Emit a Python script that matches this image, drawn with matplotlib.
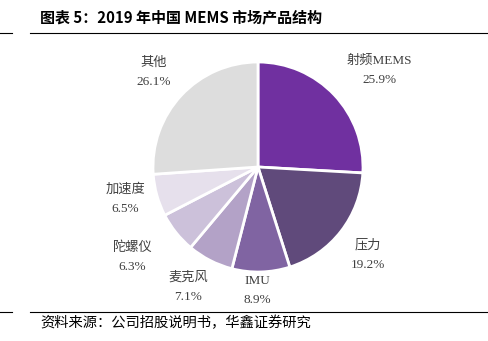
import numpy as np
import matplotlib
matplotlib.use('Agg')
import matplotlib.pyplot as plt
from matplotlib.lines import Line2D

plt.rcParams['font.family'] = ['Liberation Serif', 'Noto Sans CJK SC', 'DejaVu Sans']

categories = ['射频MEMS', '压力', 'IMU', '麦克风', '陀螺仪', '加速度', '其他']
shares = [25.9, 19.2, 8.9, 7.1, 6.3, 6.5, 26.1]
colors = ['#7030A0', '#604A7B', '#8064A2', '#B3A2C7', '#CCC1DA', '#E6E0EC', '#DDDDDD']

# label distance from centre (in pie radii) and angle nudge (deg), per slice
label_dist = [1.48, 1.34, 1.18, 1.32, 1.47, 1.30, 1.34]
label_turn = [-5, -1, -2, -3, -3, -2, 1]

W, H = 489, 341
fig = plt.figure(figsize=(W / 100, H / 100), dpi=100)

# pie axes: centre (258, 167) px from top, radius ~105 px
cx, cy, r = 258, 167, 105
ax = fig.add_axes([(cx - r) / W, (H - cy - r) / H, 2 * r / W, 2 * r / H])
wedges, _ = ax.pie(shares, colors=colors, startangle=90, counterclock=False,
                   radius=1, wedgeprops=dict(edgecolor='white', linewidth=2))
ax.set_xlim(-1, 1)
ax.set_ylim(-1, 1)
ax.set_aspect('equal')
ax.axis('off')

for w, name, val, d, t in zip(wedges, categories, shares, label_dist, label_turn):
    ang = np.deg2rad((w.theta1 + w.theta2) / 2 + t)
    x, y = d * np.cos(ang), d * np.sin(ang)
    ax.text(x, y, f'{name}\n{val:.1f}%', ha='center', va='center',
            fontsize=9.5, color='#404040', linespacing=1.8, clip_on=False)

# title and rules
fig.text(40 / W, 1 - 17 / H, '图表 5：2019 年中国 MEMS 市场产品结构',
         fontsize=10.8, fontweight='bold', family=['Noto Sans CJK SC'],
         ha='left', va='center', color='black')
for yy in (33, 312):
    fig.add_artist(Line2D([0, 12 / W], [1 - yy / H] * 2, color='black', lw=0.8))
    fig.add_artist(Line2D([30 / W, 487 / W], [1 - yy / H] * 2, color='black', lw=0.8))

fig.text(40 / W, 1 - 323 / H, '资料来源：公司招股说明书，华鑫证券研究',
         fontsize=10.3, family=['Noto Sans CJK SC'], ha='left', va='center', color='black')

fig.savefig('out.png', dpi=100)
